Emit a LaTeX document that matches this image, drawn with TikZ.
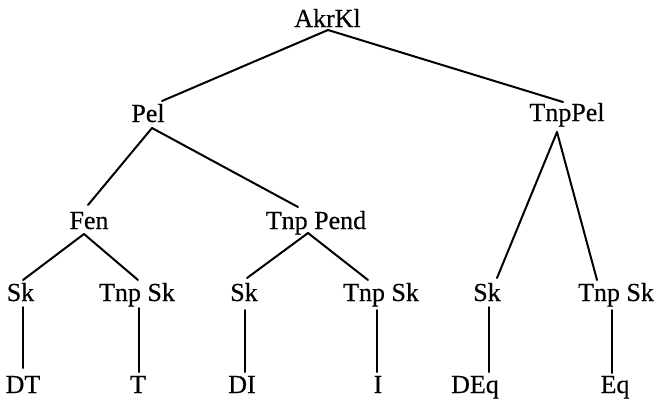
\documentclass[tikz,border=0pt]{standalone}
\usepackage{fontspec}
\setmainfont{Liberation Serif}
\newfontfamily\treefont[FakeBold=0.4]{Liberation Serif}
\usetikzlibrary{calc}
\begin{document}
\begin{tikzpicture}[x=1pt,y=-1pt,
  lbl/.style={anchor=base,inner sep=0pt,outer sep=0pt,
    font=\treefont\fontsize{26}{30}\selectfont},
  edge/.style={line width=2pt,line cap=round}]
\useasboundingbox (0,0) rectangle (656,405);

% labels, placed by their baselines
\node[lbl] (akr)     at (327.5,27) {AkrKl};
\node[lbl] (pel)     at (148,122)  {Pel};
\node[lbl] (tnppel)  at (567,121)  {TnpPel};
\node[lbl] (fen)     at (89,229)   {Fen};
\node[lbl] (tnppend) at (316,229)  {Tnp Pend};
\node[lbl] (sk1)     at (20.5,301) {Sk};
\node[lbl] (tsk1)    at (137,301)  {Tnp Sk};
\node[lbl] (sk2)     at (244,301)  {Sk};
\node[lbl] (tsk2)    at (381,301)  {Tnp Sk};
\node[lbl] (sk3)     at (487,301)  {Sk};
\node[lbl] (tsk3)    at (616,301)  {Tnp Sk};
\node[lbl] (dt)      at (23,393)   {DT};
\node[lbl] (t)       at (138,393)  {T};
\node[lbl] (di)      at (242,393)  {DI};
\node[lbl] (i)       at (378,393)  {I};
\node[lbl] (deq)     at (475,393)  {DEq};
\node[lbl] (eq)      at (615,393)  {Eq};

% branches
\draw[edge] ($(akr.base)+(0.5,3)$) -- ($(pel.base)+(14,-21)$);
\draw[edge] ($(akr.base)+(0.5,3)$) -- ($(tnppel.base)+(-4,-19)$);
\draw[edge] ($(pel.base)+(4,6)$) -- ($(fen.base)+(-1,-24)$);
\draw[edge] ($(pel.base)+(4,6)$) -- ($(tnppend.base)+(-18,-22)$);
\draw[edge] ($(fen.base)+(-5,5)$) -- ($(sk1.base)+(2.5,-21)$);
\draw[edge] ($(fen.base)+(-5,5)$) -- ($(tsk1.base)+(1,-21)$);
\draw[edge] ($(tnppend.base)+(-8,4)$) -- ($(sk2.base)+(3,-23)$);
\draw[edge] ($(tnppend.base)+(-8,4)$) -- ($(tsk2.base)+(-13,-21)$);
\draw[edge] ($(tnppel.base)+(-10,11)$) -- ($(sk3.base)+(10,-23)$);
\draw[edge] ($(tnppel.base)+(-10,11)$) -- ($(tsk3.base)+(-19,-21)$);

% stems down to the leaves
\draw[edge] ($(sk1.base)+(2.5,6)$)   -- ($(dt.base)+(0,-25)$);
\draw[edge] ($(tsk1.base)+(2,7)$)    -- ($(t.base)+(1,-21)$);
\draw[edge] ($(sk2.base)+(1,9)$)     -- ($(di.base)+(3,-21)$);
\draw[edge] ($(tsk2.base)+(-4,9)$)   -- ($(i.base)+(-1,-21)$);
\draw[edge] ($(sk3.base)+(2,6)$)     -- ($(deq.base)+(14,-21)$);
\draw[edge] ($(tsk3.base)+(-4,9)$)   -- ($(eq.base)+(-3,-20)$);
\end{tikzpicture}
\end{document}
